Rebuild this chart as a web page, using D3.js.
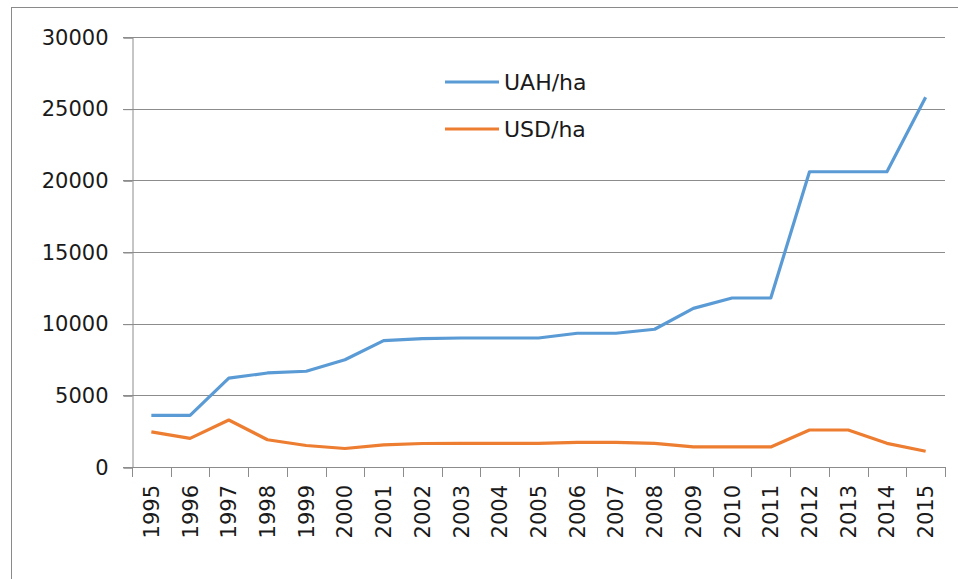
<!DOCTYPE html>
<html>
<head>
<meta charset="utf-8">
<script src="https://cdn.jsdelivr.net/npm/d3@7"></script>
<style>
  body { margin: 0; background: #fff; }
  text { font-family: "DejaVu Sans", sans-serif; fill: #1a1a1a; }
</style>
</head>
<body>
<div id="chart"></div>
<script>
var years = ['1995','1996','1997','1998','1999','2000','2001','2002','2003','2004','2005',
             '2006','2007','2008','2009','2010','2011','2012','2013','2014','2015'];
var uahPerHa = [3600, 3600, 6200, 6560, 6680, 7480, 8820, 8960, 9000, 9000, 9000,
                9330, 9330, 9610, 11070, 11790, 11790, 20600, 20600, 20600, 25800];
var usdPerHa = [2450, 2000, 3280, 1900, 1500, 1290, 1540, 1640, 1650, 1650, 1650,
                1720, 1720, 1650, 1400, 1400, 1400, 2580, 2580, 1650, 1100];
var yTicks = [0, 5000, 10000, 15000, 20000, 25000, 30000];
var seriesNames = ['UAH/ha', 'USD/ha'];
var colours = ['#5b9bd5', '#ed7d31'];

var width = 958, height = 579;
var plotLeft = 132, plotRight = 945, plotTop = 37, plotBottom = 467;
var gridColour = '#8c8c8c';

var svg = d3.select('#chart').append('svg')
    .attr('width', width)
    .attr('height', height);

// outer chart frame (runs off the right/bottom)
svg.append('rect')
    .attr('x', 11.5).attr('y', 7.5)
    .attr('width', 990).attr('height', 620)
    .attr('fill', 'none')
    .attr('stroke', '#8a8a8a');

var x = d3.scaleBand().domain(years).range([plotLeft, plotRight]);
var y = d3.scaleLinear().domain([0, 30000]).range([plotBottom, plotTop]);

// gridlines + left ticks
svg.append('g').selectAll('line')
    .data(yTicks)
    .enter().append('line')
    .attr('x1', plotLeft - 9).attr('x2', plotRight)
    .attr('y1', d => Math.round(y(d)) + 0.5)
    .attr('y2', d => Math.round(y(d)) + 0.5)
    .attr('stroke', gridColour)
    .attr('stroke-width', 1);

var yAxis = svg.append('g')
    .attr('transform', 'translate(' + (plotLeft + 0.5) + ',0.5)')
    .call(d3.axisLeft(y).tickValues(yTicks).tickSize(9).tickPadding(15).tickFormat(d3.format('d')));
yAxis.select('.domain').attr('stroke', gridColour);
yAxis.selectAll('.tick line').attr('stroke', gridColour);
yAxis.selectAll('text').style('font-size', '21px').attr('fill', '#1a1a1a');

// x ticks at band edges
var edges = years.map(d => x(d)).concat([plotRight]);
svg.append('g').selectAll('line')
    .data(edges)
    .enter().append('line')
    .attr('x1', d => Math.round(d) + 0.5).attr('x2', d => Math.round(d) + 0.5)
    .attr('y1', plotBottom).attr('y2', plotBottom + 10)
    .attr('stroke', gridColour);

var xAxis = svg.append('g')
    .attr('transform', 'translate(0,' + plotBottom + ')')
    .call(d3.axisBottom(x).tickSize(0));
xAxis.select('.domain').remove();
xAxis.selectAll('text')
    .style('font-size', '21px')
    .attr('fill', '#1a1a1a')
    .attr('text-anchor', 'end')
    .attr('dy', '0.36em')
    .attr('transform', 'translate(0,18) rotate(-90)')
    .attr('x', 0).attr('y', 0);

// lines
var line = d3.line()
    .x((d, i) => x(years[i]) + x.bandwidth() / 2)
    .y(d => y(d));

[uahPerHa, usdPerHa].forEach((vals, i) => {
    svg.append('path')
        .datum(vals)
        .attr('d', line)
        .attr('fill', 'none')
        .attr('stroke', colours[i])
        .attr('stroke-width', 3.2)
        .attr('stroke-linejoin', 'round');
});

// legend
var legend = svg.append('g').selectAll('g')
    .data(seriesNames)
    .enter().append('g')
    .attr('transform', (d, i) => 'translate(445,' + (82 + i * 47) + ')');
legend.append('line')
    .attr('x1', 0).attr('x2', 54)
    .attr('stroke', (d, i) => colours[i])
    .attr('stroke-width', 3.2);
legend.append('text')
    .attr('x', 59).attr('dy', '0.36em')
    .style('font-size', '22px')
    .text(d => d);
</script>
</body>
</html>
